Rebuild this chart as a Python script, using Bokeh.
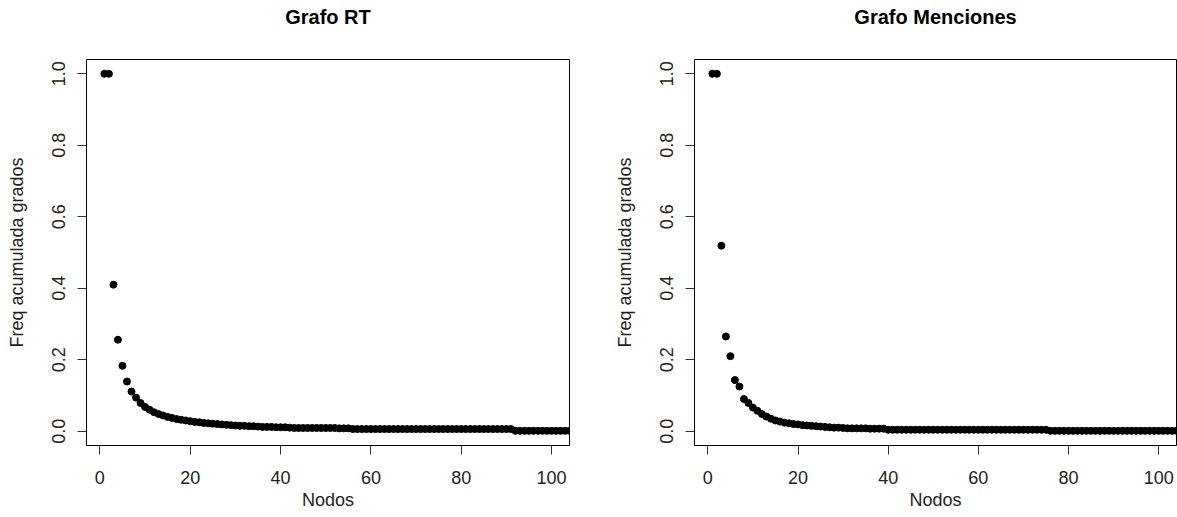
from bokeh.plotting import figure
from bokeh.layouts import row
from bokeh.models import FixedTicker, NumeralTickFormatter, Range1d, ColumnDataSource, Title
from bokeh.embed import file_html
from bokeh.resources import INLINE

# ---- data ----
nodos = list(range(1, 105))

freq_rt = [
    1.0, 1.0, 0.41, 0.256, 0.183, 0.139, 0.111, 0.094, 0.079, 0.068,
    0.060, 0.053, 0.048, 0.044, 0.040, 0.037, 0.034, 0.032, 0.030, 0.028,
    0.026, 0.025, 0.023, 0.022, 0.021, 0.020, 0.019, 0.018, 0.017, 0.016,
    0.015, 0.015, 0.014, 0.014, 0.013, 0.012, 0.012, 0.012, 0.011, 0.011,
    0.011, 0.010, 0.009, 0.009, 0.009, 0.009, 0.009, 0.009, 0.009, 0.009,
    0.009, 0.009, 0.008, 0.008, 0.008, 0.006, 0.006, 0.006, 0.006, 0.006,
    0.006, 0.006, 0.006, 0.006, 0.006, 0.006, 0.006, 0.006, 0.006, 0.006,
    0.006, 0.006, 0.006, 0.006, 0.006, 0.006, 0.006, 0.006, 0.006, 0.006,
    0.006, 0.006, 0.006, 0.006, 0.006, 0.006, 0.006, 0.006, 0.006, 0.006,
    0.006, 0.001, 0.001, 0.001, 0.001, 0.001, 0.001, 0.001, 0.001, 0.001,
    0.001, 0.001, 0.001, 0.001,
]

freq_menciones = [
    1.0, 1.0, 0.519, 0.265, 0.21, 0.143, 0.125, 0.090, 0.079, 0.066,
    0.057, 0.048, 0.041, 0.035, 0.030, 0.027, 0.024, 0.022, 0.020, 0.019,
    0.017, 0.016, 0.015, 0.014, 0.013, 0.012, 0.011, 0.010, 0.010, 0.009,
    0.008, 0.008, 0.008, 0.008, 0.008, 0.007, 0.007, 0.007, 0.007, 0.004,
    0.004, 0.004, 0.004, 0.004, 0.004, 0.004, 0.004, 0.004, 0.004, 0.004,
    0.004, 0.004, 0.004, 0.004, 0.004, 0.004, 0.004, 0.004, 0.004, 0.004,
    0.004, 0.004, 0.004, 0.004, 0.004, 0.004, 0.004, 0.004, 0.004, 0.004,
    0.004, 0.004, 0.004, 0.004, 0.004, 0.001, 0.001, 0.001, 0.001, 0.001,
    0.001, 0.001, 0.001, 0.001, 0.001, 0.001, 0.001, 0.001, 0.001, 0.001,
    0.001, 0.001, 0.001, 0.001, 0.001, 0.001, 0.001, 0.001, 0.001, 0.001,
    0.001, 0.001, 0.001, 0.001,
]

x_ticks = [0, 20, 40, 60, 80, 100]
y_ticks = [0.0, 0.2, 0.4, 0.6, 0.8, 1.0]

titles = ["Grafo RT", "Grafo Menciones"]
x_label = "Nodos"
y_label = "Freq acumulada grados"

FONT = "Liberation Sans"
X_LO, X_HI = -2.96, 103.96


def make_plot(title, yvals, width, border_left, border_right):
    p = figure(
        width=width, height=517,
        x_range=Range1d(X_LO, X_HI), y_range=Range1d(-0.04, 1.04),
        output_backend="svg", toolbar_location=None,
        min_border_left=border_left, min_border_right=border_right,
        min_border_top=59, min_border_bottom=72,
        title=None,
    )
    # empty spacer panel next to the frame, then the real title above it
    p.add_layout(Title(text=" ", text_font=FONT, text_font_size="20px",
                       text_font_style="bold", standoff=8), "above")
    p.add_layout(Title(text=title, align="center", text_font=FONT,
                       text_font_size="20px", text_font_style="bold",
                       text_color="black", standoff=0), "above")

    p.outline_line_color = "black"
    p.outline_line_width = 1
    p.outline_line_alpha = 1
    p.grid.visible = False
    p.background_fill_color = "white"
    p.border_fill_color = "white"

    for ax in (p.xaxis[0], p.yaxis[0]):
        ax.axis_line_color = None
        ax.major_tick_out = 9
        ax.major_tick_in = 0
        ax.minor_tick_line_color = None
        ax.major_tick_line_color = "#333333"
        ax.major_label_text_font = FONT
        ax.major_label_text_font_size = "18px"
        ax.major_label_text_color = "#222222"
        ax.axis_label_text_font = FONT
        ax.axis_label_text_font_size = "18px"
        ax.axis_label_text_font_style = "normal"
        ax.axis_label_text_color = "#222222"

    p.xaxis.ticker = FixedTicker(ticks=x_ticks)
    p.yaxis.ticker = FixedTicker(ticks=y_ticks)
    p.yaxis.formatter = NumeralTickFormatter(format="0.0")
    p.yaxis.major_label_orientation = "parallel"
    p.xaxis.major_label_standoff = 16
    p.yaxis.major_label_standoff = 12
    p.xaxis.axis_label = x_label
    p.xaxis.axis_label_standoff = 3
    p.yaxis.axis_label = y_label
    p.yaxis.axis_label_standoff = 23

    src = ColumnDataSource(dict(x=nodos, y=yvals))
    p.scatter("x", "y", source=src, size=7, marker="circle",
              fill_color="black", line_color="black")
    return p


p1 = make_plot(titles[0], freq_rt, 588, 86, 19)
p2 = make_plot(titles[1], freq_menciones, 589, 106, 1)

layout = row(p1, p2)
open("out.html", "w").write(file_html(layout, INLINE))
